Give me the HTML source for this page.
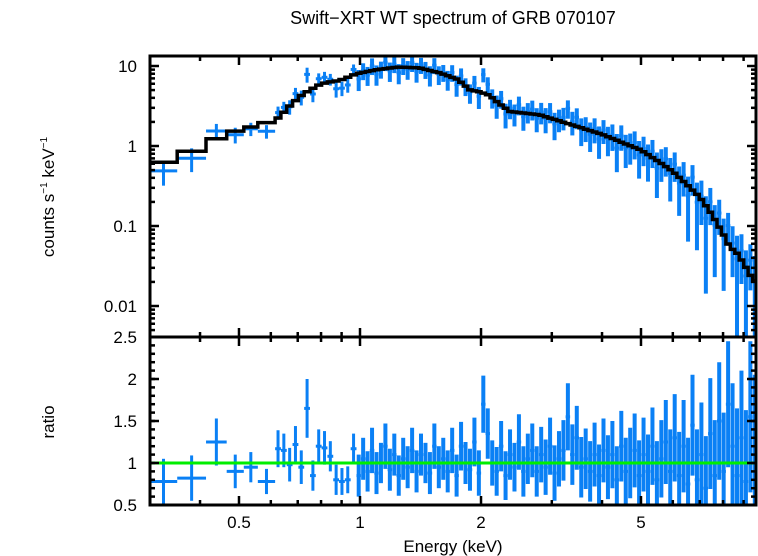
<!DOCTYPE html>
<html><head><meta charset="utf-8">
<style>
html,body{margin:0;padding:0;background:#fff;}
svg{display:block;font-family:"Liberation Sans",sans-serif;}
</style></head>
<body>
<svg id="chart" width="758" height="556" viewBox="0 0 758 556" xmlns="http://www.w3.org/2000/svg">
<text x="453" y="24" font-size="18" text-anchor="middle">Swift−XRT WT spectrum of GRB 070107</text>
<text transform="translate(54,197) rotate(-90)" font-size="17" text-anchor="middle">counts s<tspan font-size="10" dy="-7">−1</tspan><tspan dy="7"> keV</tspan><tspan font-size="10" dy="-7">−1</tspan></text>
<text transform="translate(54,422) rotate(-90)" font-size="17" text-anchor="middle">ratio</text>
<text x="453" y="552" font-size="17" text-anchor="middle">Energy (keV)</text>
<g id="marks"></g>
<g id="axes"></g>
</svg>
<script>
// ---- data ----
const sparseEdges = [0.30,0.351,0.414,0.466,0.514,0.557,0.615];
const midRange = [0.615,0.98];
const midCount = 14;
const denseRange = [0.98,9.72];
const denseCount = 90;
const ratioValues = [
 0.78,0.82,1.25,0.9,0.95,0.78,
 1.17,1.15,0.98,1.22,0.95,1.65,0.85,1.2,1.18,1.08,0.8,0.78,0.8,1.17,
 0.85,1.05,0.9,1.15,0.88,1.0,1.2,0.92,1.1,0.85,1.05,
 0.95,1.15,0.9,1.1,1.0,0.88,1.2,0.95,1.05,0.9,
 1.15,0.85,1.2,1.0,0.92,1.25,0.88,1.7,1.35,1.0,
 0.9,1.2,0.85,1.1,0.95,1.25,0.9,1.05,1.15,0.9,
 1.1,0.95,1.2,0.88,1.05,1.15,1.55,1.1,1.3,0.95,
 1.05,0.9,1.1,0.85,1.15,0.95,1.1,0.8,1.2,0.9,
 1.0,1.15,0.85,1.1,0.9,1.2,0.8,1.05,1.25,0.9,
 1.3,0.85,1.2,0.75,1.45,0.8,1.1,0.7,1.35,0.85,
 1.5,0.9,1.7,1.2,0.85,1.3,0.78,1.55,1.1
];
const ratioErrors = [
 0.27,0.27,0.28,0.2,0.18,0.15,
 0.22,0.2,0.2,0.22,0.2,0.35,0.18,0.2,0.2,0.18,0.18,0.16,0.16,0.18,
 0.25,0.25,0.24,0.27,0.25,0.24,0.27,0.25,0.25,0.24,0.25,
 0.25,0.27,0.25,0.25,0.24,0.25,0.27,0.25,0.25,0.25,
 0.27,0.25,0.29,0.25,0.25,0.29,0.27,0.34,0.3,0.27,
 0.29,0.3,0.29,0.3,0.29,0.33,0.3,0.3,0.32,0.3,
 0.33,0.33,0.34,0.33,0.33,0.36,0.4,0.36,0.38,0.36,
 0.36,0.36,0.38,0.37,0.38,0.38,0.4,0.4,0.42,0.4,
 0.42,0.44,0.42,0.44,0.44,0.46,0.46,0.46,0.5,0.5,
 0.52,0.52,0.55,0.55,0.6,0.6,0.62,0.62,0.66,0.66,
 0.7,0.7,0.75,0.75,0.8,0.8,0.85,0.9,0.95
];
const modelKnotE = [0.30,0.351,0.414,0.466,0.514,0.557,0.615,0.63,0.67,0.71,0.75,0.8,0.84,0.89,0.98,1.1,1.24,1.4,1.58,1.75,1.88,2.0,2.1,2.2,2.36,2.8,3.14,3.5,4.0,4.5,5.0,5.5,6.0,6.5,7.0,7.5,8.0,8.3,8.7,9.1,9.5,9.72];
const modelKnotV = [0.56,0.70,1.05,1.45,1.63,1.83,2.1,2.3,3.2,4.2,5.0,6.0,6.3,6.6,8.0,9.0,9.7,9.5,8.2,6.8,5.0,4.7,4.3,3.5,2.7,2.45,2.05,1.73,1.4,1.1,0.89,0.65,0.48,0.33,0.23,0.14,0.08,0.055,0.045,0.031,0.021,0.02];
const xTickLabels = ["0.5","1","2","5"];
const yTopTickLabels = ["10","1","0.1","0.01"];
const yBotTickLabels = ["0.5","1","1.5","2","2.5"];

// ---- axes ----
const L=150,R=756,T=56,MID=337,B=505;
const xScale=E=>360+402*Math.log10(E);
const yTop=v=>146-80*Math.log10(v);
const yBot=r=>463-84*(r-1);
const clipT=y=>Math.max(T,Math.min(MID,y));
const clipB=y=>Math.max(MID,Math.min(B,y));
const NS="http://www.w3.org/2000/svg";
function mk(tag,attrs,parent){const e=document.createElementNS(NS,tag);for(const k in attrs)e.setAttribute(k,attrs[k]);parent.appendChild(e);return e;}

const bins=[];
for(let i=0;i<sparseEdges.length-1;i++)bins.push([sparseEdges[i],sparseEdges[i+1]]);
function logBins(r,n){const a=Math.log10(r[0]),b=Math.log10(r[1]);for(let i=0;i<n;i++)bins.push([10**(a+(b-a)*i/n),10**(a+(b-a)*(i+1)/n)]);}
logBins(midRange,midCount);logBins(denseRange,denseCount);
function modelAt(E){const le=Math.log10(E);for(let i=0;i<modelKnotE.length-1;i++){const a=Math.log10(modelKnotE[i]),b=Math.log10(modelKnotE[i+1]);if(le>=a&&le<=b){const t=(le-a)/(b-a);return 10**(Math.log10(modelKnotV[i])*(1-t)+Math.log10(modelKnotV[i+1])*t);}}return modelKnotV[modelKnotV.length-1];}

const marks=document.getElementById('marks');
const blue="#0a80f5";
let modelPath="";
bins.forEach((bn,i)=>{
  const lo=bn[0],hi=bn[1],c=Math.sqrt(lo*hi);
  const m=modelAt(c),r=ratioValues[i],er=ratioErrors[i];
  const x1=Math.max(L,xScale(lo)),x2=Math.min(R,xScale(hi)),xc=xScale(c);
  const sw=(i>=20)?4:3;
  const d=m*r, dlo=Math.max(m*(r-er),1e-4), dhi=m*(r+er);
  const g=mk('g',{},marks);
  
  
  const ya=clipT(yTop(dhi)),yb=clipT(yTop(dlo)),yd=yTop(d);
  mk('line',{x1:xc,x2:xc,y1:ya,y2:yb,stroke:blue,'stroke-width':sw},g);
  if(yd>=T&&yd<=MID)mk('line',{x1:x1,x2:x2,y1:yd,y2:yd,stroke:blue,'stroke-width':3},g);
  const ra=clipB(yBot(r+er)),rb=clipB(yBot(r-er)),yr=yBot(r);
  mk('line',{x1:xc,x2:xc,y1:ra,y2:rb,stroke:blue,'stroke-width':sw},g);
  if(yr>=MID&&yr<=B)mk('line',{x1:x1,x2:x2,y1:yr,y2:yr,stroke:blue,'stroke-width':3},g);
  const ym=clipT(yTop(m));
  modelPath+=(i===0?"M":"L")+x1.toFixed(1)+","+ym.toFixed(1)+"L"+x2.toFixed(1)+","+ym.toFixed(1);
});
const mp=mk('path',{d:modelPath,fill:'none',stroke:'#000','stroke-width':3.5},marks);


const gl=mk('line',{x1:L,x2:R,y1:yBot(1),y2:yBot(1),stroke:'#00ee00','stroke-width':3},marks);



const ax=document.getElementById('axes');
const fr=mk('path',{d:`M${L},${T}H${R}V${B}H${L}Z M${L},${MID}H${R}`,fill:'none',stroke:'#000','stroke-width':3},ax);


const xMajor=[0.5,1,2,5],xMinor=[0.3,0.4,0.6,0.7,0.8,0.9,3,4,6,7,8,9];
function tick(x1,y1,x2,y2,w){mk('line',{x1,y1,x2,y2,stroke:'#000','stroke-width':w||2.5},ax);}
xMajor.forEach((E,i)=>{const x=xScale(E);tick(x,T,x,T+9);tick(x,B,x,B-9);tick(x,MID-9,x,MID+9);
  const t=mk('text',{x:x,y:528,'font-size':17,'text-anchor':'middle'},ax);t.textContent=xTickLabels[i];
  
  });
xMinor.forEach(E=>{const x=xScale(E);tick(x,T,x,T+5);tick(x,B,x,B-5);tick(x,MID-5,x,MID+5);});
[10,1,0.1,0.01].forEach((v,i)=>{const y=yTop(v);tick(L,y,L+9,y);tick(R,y,R-9,y);
  const t=mk('text',{x:137,y:y+6,'font-size':17,'text-anchor':'end'},ax);t.textContent=yTopTickLabels[i];
  
  });
for(let d=-3;d<=1;d++)for(let k=2;k<=9;k++){const y=yTop(k*10**d);if(y>T&&y<MID){tick(L,y,L+5,y);tick(R,y,R-5,y);}}
[0.5,1,1.5,2,2.5].forEach((r,i)=>{const y=yBot(r);tick(L,y,L+9,y);tick(R,y,R-9,y);
  const t=mk('text',{x:137,y:y+6,'font-size':17,'text-anchor':'end'},ax);t.textContent=yBotTickLabels[i];
  
  });
for(let r=0.6;r<2.5;r+=0.1){const y=yBot(r);tick(L,y,L+5,y);tick(R,y,R-5,y);}
</script>
</body></html>
